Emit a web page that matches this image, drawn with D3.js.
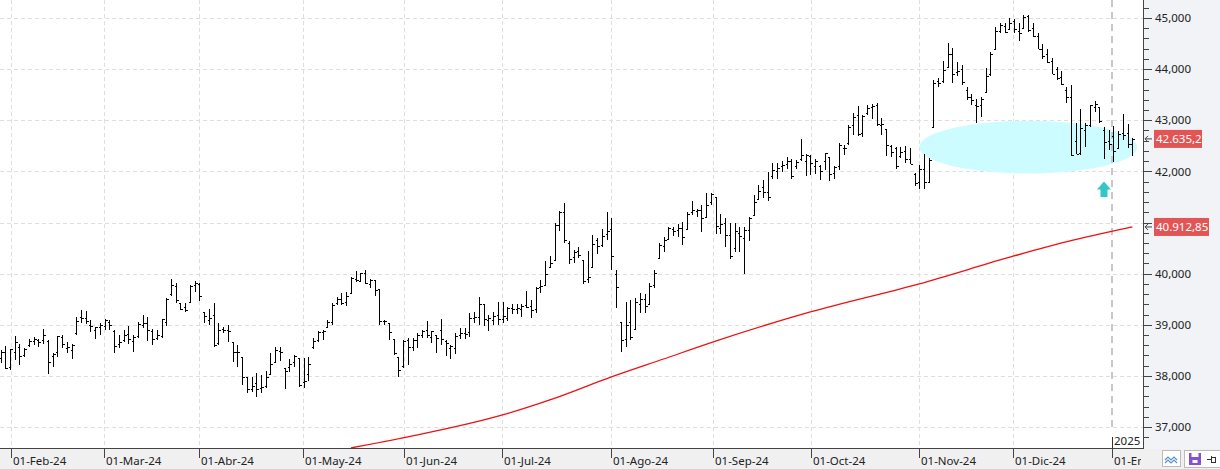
<!DOCTYPE html>
<html><head><meta charset="utf-8">
<script src="https://cdn.jsdelivr.net/npm/d3@7"></script>
<style>html,body{margin:0;padding:0;background:#fff;overflow:hidden}svg{display:block}text{font-family:"Noto Sans",sans-serif}</style>
</head><body><svg id="c" width="1220" height="469"></svg>
<script>
// ---- DATA ----
const barOpen=[38350,38470,38170,38470,38560,38400,38600,38680,38700,38700,38690,38390,38460,38760,38540,38500,38830,39150,39140,39000,38900,38950,38980,39050,38880,38620,38700,38820,38690,38780,39000,39040,38880,38750,38780,39050,39600,39760,39420,39340,39450,39780,39800,39250,39100,39200,38640,38920,38900,38660,38460,38370,37978,37740,37860,37770,37800,38040,38270,38490,38150,38170,38270,38340,37880,38030,38560,38700,38860,38960,39050,39420,39510,39440,39630,39900,39860,40010,39800,39870,39700,39070,39030,38720,38370,38200,38700,38560,38710,38800,38890,38760,38790,38900,38690,38550,38550,38790,38840,38850,39140,39160,39400,39100,39100,39200,39120,39130,39330,39310,39300,39390,39360,39300,39730,39770,40120,40260,40950,41200,40600,40320,40450,40260,39900,40120,40650,40560,40780,40880,40000,39050,38720,39050,38920,39400,39500,39400,39780,40300,40540,40680,40880,40850,40900,40880,41200,41220,41250,41100,41400,41500,40900,41000,40750,40500,40800,40700,40850,41150,41450,41700,41600,41900,42000,42100,42150,42200,42100,42250,42200,42300,42100,42100,42200,42280,41960,42100,42450,42550,42900,43100,42750,43150,43250,43300,42900,42830,42500,42450,42300,42400,42250,41950,41800,42050,41800,42860,43770,43760,44050,44300,43950,44000,43600,43450,43300,43300,43550,43900,44400,44750,44850,44780,44950,44750,44800,45040,44800,44650,44400,44300,44150,44000,43850,43600,43450,42600,42350,42800,42900,43250,43250,42800,42600,42700,42450,42750,42750,42530];
const barHigh=[38500,38585,38530,38780,38625,38550,38720,38770,38720,38920,38700,38450,38780,38800,38665,38625,39150,39290,39270,39095,38960,39035,39115,39095,38900,38800,38900,38975,38800,39055,39190,39150,38920,38900,39115,39525,39895,39820,39425,39425,39780,39860,39820,39255,39310,39430,39035,38960,39000,38665,38605,38370,37980,37980,38055,38015,38095,38445,38565,38565,38155,38330,38410,38350,38350,38370,38740,38870,38900,39095,39425,39545,39620,39640,39935,40050,40015,40075,39895,39875,39700,39095,39035,38720,38370,38700,38740,38740,38840,38900,39075,38880,38800,39110,38700,38600,38840,38935,38935,39230,39250,39545,39405,39190,39250,39445,39445,39345,39405,39400,39405,39660,39485,39740,39875,40245,40345,40990,41225,41380,40640,40460,40520,40265,40445,40755,40695,40875,41205,41090,40070,39055,39445,39485,39525,39620,39600,39815,40070,40600,40715,40910,40910,40970,41010,41205,41420,41265,41345,41575,41575,41500,41165,41090,40990,40990,40910,40910,41110,41540,41735,41830,41990,42165,42165,42205,42280,42240,42220,42630,42340,42320,42245,42125,42360,42280,42105,42555,42515,42905,43140,43280,43100,43300,43320,43340,43040,42830,42515,42475,42475,42495,42455,41970,42125,42340,42260,43785,43825,44160,44510,44410,44140,44080,43650,43515,43415,43455,44020,44335,44825,44900,44900,45000,44980,44900,45060,45060,44900,44705,44490,44395,44220,44040,43965,43650,43690,42945,43220,42945,43300,43375,43260,42870,42810,42880,42790,43120,42925,42655];
const barLow=[38250,38140,38120,38310,38215,38370,38560,38600,38565,38630,38040,38175,38370,38545,38445,38330,38800,39035,39015,38860,38720,38800,38895,38895,38447,38545,38660,38625,38470,38740,38940,38680,38605,38700,38740,38975,39560,39425,39290,39250,39445,39650,39465,39035,39000,38560,38605,38840,38660,38270,38175,37820,37665,37685,37590,37665,37760,38015,38270,38290,37745,38075,38175,37780,37765,37900,38525,38660,38700,38955,39000,39385,39385,39365,39620,39835,39835,39805,39720,39560,39000,38995,38700,38410,37980,38155,38210,38480,38545,38740,38740,38645,38450,38605,38390,38330,38430,38720,38720,38760,39035,39000,38975,38880,39000,39000,39035,39075,39210,39220,39150,39330,39130,39230,39620,39760,40110,40250,40835,40600,40190,40210,40305,39795,39815,40110,40385,40520,40660,40070,39330,38465,38565,38700,38900,39230,39230,39380,39720,40285,40420,40675,40735,40715,40560,40855,41145,41110,40815,41090,41345,40775,40775,40520,40285,40425,40425,39995,40640,41125,41440,41480,41420,41850,41850,41990,42045,41850,42045,42200,41910,41930,41950,41830,42025,41810,41850,42025,42320,42515,42710,42690,42670,43100,43025,42890,42710,42300,42280,42045,42260,42165,42140,41715,41655,41655,41775,42850,43650,43730,44040,43730,43865,43690,43395,43300,42945,43065,43535,43865,44395,44705,44705,44765,44705,44550,44800,44725,44625,44395,44200,44120,43905,43785,43690,43335,42300,42340,42320,42475,42870,43160,42945,42240,42420,42180,42440,42615,42455,42300];
const barClose=[38467,38150,38519,38654,38380,38521,38677,38726,38671,38797,38272,38424,38773,38628,38564,38612,39069,39131,39069,38972,38949,38996,39087,38990,38585,38661,38791,38723,38770,39005,39043,38906,38715,38790,39111,39512,39781,39476,39314,39282,39760,39807,39567,39170,39127,38597,38904,38893,38884,38462,38459,37983,37735,37799,37753,37775,37986,38240,38504,38461,38086,38240,38386,37816,37903,38226,38676,38852,38884,39056,39388,39513,39432,39558,39908,39869,40004,39807,39873,39671,39065,39069,38853,38442,38111,38686,38571,38711,38807,38886,38799,38868,38747,38712,38647,38589,38778,38835,38820,39135,39150,39411,39112,39128,39164,39119,39170,39332,39308,39330,39376,39345,39292,39721,39754,40001,40212,40954,41198,40665,40288,40415,40358,39854,39935,40589,40540,40743,40843,40348,39737,38703,38998,38763,39446,39498,39357,39766,40008,40563,40660,40897,40835,40890,40713,41175,41241,41251,41091,41335,41563,40937,40975,40756,40345,40830,40737,40862,41097,41394,41622,41606,41503,42025,42063,42125,42208,41915,42175,42313,42330,42157,42197,42012,42353,41954,42080,42512,42454,42864,43065,42740,43078,43239,43276,42932,42925,42515,42374,42114,42388,42233,42142,41763,42052,41795,42222,43730,43729,43989,44293,43911,43958,43751,43445,43390,43269,43408,43870,44297,44737,44860,44722,44911,44782,44706,45014,44766,44643,44402,44248,44149,43914,43828,43717,43450,42327,42342,42840,42907,43297,43326,42992,42574,42544,42392,42732,42707,42528,42635.2];
// 200-session moving average, read at sample bars
const maIndex=[74,86,106,116,129,140,151,171,194,214,225,239];
const maValue=[36590,36805,37235,37530,37980,38330,38680,39250,39800,40345,40620,40912.85];
// axis labels
const monthLabels=["01-Feb-24","01-Mar-24","01-Abr-24","01-May-24","01-Jun-24","01-Jul-24","01-Ago-24","01-Sep-24","01-Oct-24","01-Nov-24","01-Dic-24","01-Ene-25"];
const monthBar=[2.2,21.9,41.9,63.9,85.2,105.9,128.9,150.4,171.1,194,213.8,234.7];
const yTicks=[37000,38000,39000,40000,41000,42000,43000,44000,45000];
const yearLabel="2025";
// annotations
const zone={i0:194,i1:240,v0:41960,v1:42990};
const upArrow={i:233,top:41800,bottom:41500};

// ---- DRAW ----
const N=barClose.length;
const svg=d3.select('#c');
const plotR=1143, plotB=448;
const x=d3.scaleLinear().domain([0,N-1]).range([0.5,1132.4]);
const y=d3.scaleLinear().domain([37000,45000]).range([427,18]);
const loc=d3.formatLocale({decimal:",",thousands:".",grouping:[3],currency:["","€"]});
const fAxis=loc.format(",.3f"), fLast=loc.format(",.1f"), fMa=loc.format(",.2f");

svg.append('rect').attr('width',1220).attr('height',469).attr('fill','#fff');
svg.append('rect').attr('x',plotR+1).attr('y',0).attr('width',1220-plotR).attr('height',plotB+1).attr('fill','#f1f3f6');
svg.append('rect').attr('x',0).attr('y',plotB+1).attr('width',1220).attr('height',20).attr('fill','#f0f0f0');

svg.append('defs').append('clipPath').attr('id','plot').append('rect').attr('x',0).attr('y',0).attr('width',plotR).attr('height',plotB);

// grid
const grid=svg.append('g').attr('stroke','#dedede').attr('stroke-dasharray','4,3').attr('shape-rendering','crispEdges');
grid.selectAll('line.h').data(yTicks).join('line').attr('class','h')
 .attr('x1',0).attr('x2',plotR).attr('y1',d=>Math.round(y(d))+0.5).attr('y2',d=>Math.round(y(d))+0.5);
grid.selectAll('line.v').data(monthBar.slice(0,-1)).join('line').attr('class','v')
 .attr('y1',0).attr('y2',plotB).attr('x1',d=>Math.round(x(d))+0.5).attr('x2',d=>Math.round(x(d))+0.5);

const g=svg.append('g').attr('clip-path','url(#plot)');
// zone ellipse
g.append('ellipse').attr('cx',(x(zone.i0)+x(zone.i1))/2).attr('cy',(y(zone.v0)+y(zone.v1))/2)
 .attr('rx',(x(zone.i1)-x(zone.i0))/2).attr('ry',(y(zone.v0)-y(zone.v1))/2).attr('fill','#ccfcff');
// year separator
const yx=Math.round(x(monthBar[monthBar.length-1]));
g.append('line').attr('x1',yx).attr('x2',yx).attr('y1',0).attr('y2',432).attr('stroke','#c8c8c8').attr('stroke-width',2).attr('stroke-dasharray','7,5');
// moving average
g.append('path').datum(maIndex.map((d,k)=>[d,maValue[k]]))
 .attr('d',d3.line().curve(d3.curveMonotoneX).x(d=>x(d[0])).y(d=>y(d[1]))).attr('fill','none').attr('stroke','#ee1111').attr('stroke-width',1.3);
// OHLC bars
const bars=g.append('g').attr('stroke','#000').attr('shape-rendering','crispEdges');
d3.range(N).forEach(i=>{
  const cx=Math.round(x(i))+0.5;
  bars.append('line').attr('x1',cx).attr('x2',cx).attr('y1',y(barHigh[i])).attr('y2',y(barLow[i])).attr('stroke-width',1.5);
  const yo=Math.round(y(barOpen[i]))+0.5, yc=Math.round(y(barClose[i]))+0.5;
  bars.append('line').attr('x1',cx-2).attr('x2',cx).attr('y1',yo).attr('y2',yo);
  bars.append('line').attr('x1',cx).attr('x2',cx+2.5).attr('y1',yc).attr('y2',yc);
});
// arrow
{
  const ax=x(upArrow.i), t=y(upArrow.top), b=y(upArrow.bottom);
  g.append('path').attr('d',`M${ax},${t} L${ax+7},${t+8} L${ax+3.5},${t+8} L${ax+3.5},${b} L${ax-3.5},${b} L${ax-3.5},${t+8} L${ax-7},${t+8} Z`).attr('fill','#33c6c9');
}
// year label
svg.append('line').attr('x1',yx+0.5).attr('x2',yx+0.5).attr('y1',437).attr('y2',455).attr('stroke','#333').attr('shape-rendering','crispEdges');
svg.append('text').attr('x',yx+2).attr('y',445).attr('font-size',11.5).attr('fill','#222').text(yearLabel);

// right axis
const ra=svg.append('g').attr('shape-rendering','crispEdges');
ra.append('line').attr('x1',plotR+0.5).attr('x2',plotR+0.5).attr('y1',0).attr('y2',plotB+1).attr('stroke','#444');
d3.range(36800,45400,200).forEach(v=>{
  const yy=Math.round(y(v))+0.5; if(yy<0||yy>plotB) return;
  const major=v%1000===0;
  ra.append('line').attr('x1',plotR+1).attr('x2',plotR+(major?9:6)).attr('y1',yy).attr('y2',yy).attr('stroke','#444');
});
const tags=[[barClose[N-1],fLast(barClose[N-1]),48],[maValue[maValue.length-1],fMa(maValue[maValue.length-1]),55]];
// axis labels hidden behind a price tag are not drawn (as in the reference)
const visibleTicks=yTicks.filter(v=>tags.every(t=>Math.abs(y(v)-y(t[0]))>12));
svg.selectAll('text.yl').data(visibleTicks).join('text').attr('class','yl').attr('x',plotR+12).attr('y',d=>y(d)).attr('dy','0.36em')
 .attr('font-size',11.5).attr('fill','#222').text(d=>fAxis(d/1000));
tags.forEach(([v,txt,w])=>{
  const yy=y(v);
  svg.append('rect').attr('x',plotR+11).attr('y',yy-9).attr('width',w).attr('height',18).attr('fill','#e35555');
  svg.append('text').attr('x',plotR+13).attr('y',yy).attr('dy','0.36em').attr('font-size',11.5).attr('fill','#fff').text(txt);
  svg.append('path').attr('d',`M${plotR+9},${yy} H${plotR+2} M${plotR+5},${yy-3} L${plotR+2},${yy} L${plotR+5},${yy+3}`).attr('stroke','#444').attr('fill','none');
});

// bottom axis
const ba=svg.append('g');
ba.append('line').attr('x1',0).attr('x2',plotR+1).attr('y1',448.5).attr('y2',448.5).attr('stroke','#444').attr('shape-rendering','crispEdges');
monthBar.forEach((p,k)=>{
  const xx=Math.round(x(p))+0.5;
  ba.append('line').attr('x1',xx).attr('x2',xx).attr('y1',449).attr('y2',458).attr('stroke','#444').attr('shape-rendering','crispEdges');
  ba.append('text').attr('x',xx+1.5).attr('y',465).attr('font-size',11.5).attr('fill','#222').text(monthLabels[k]);
});
// bottom-right toolbar (covers the clipped last label as in the reference)
svg.append('rect').attr('x',1141).attr('y',449).attr('width',79).attr('height',20).attr('fill','#f0f0f0');
const ic=svg.append('g');
ic.append('rect').attr('x',1162.5).attr('y',450.5).attr('width',18).attr('height',16).attr('fill','#fff').attr('stroke','#bbb');
ic.append('path').attr('d','M1165,460 l3,-3 l3,3 l3,-3 l3,3 M1165,463 l3,-3 l3,3 l3,-3 l3,3').attr('stroke','#5b8fd6').attr('fill','none').attr('stroke-width',1.2);
ic.append('rect').attr('x',1184.5).attr('y',450.5).attr('width',36).attr('height',17).attr('fill','#fff').attr('stroke','#bbb');
ic.append('rect').attr('x',1189).attr('y',453).attr('width',12).attr('height',12).attr('fill','#8a4fcf');
ic.append('rect').attr('x',1191.5).attr('y',453).attr('width',7).attr('height',4).attr('fill','#fff');
ic.append('rect').attr('x',1192.5).attr('y',460).attr('width',5).attr('height',3).attr('fill','#fff');
ic.append('path').attr('d','M1207,459.5 h4 M1211.5,456 v7 M1211.5,457 h4 v5 h-4').attr('stroke','#333').attr('fill','none').attr('shape-rendering','crispEdges');
</script>
</body></html>
